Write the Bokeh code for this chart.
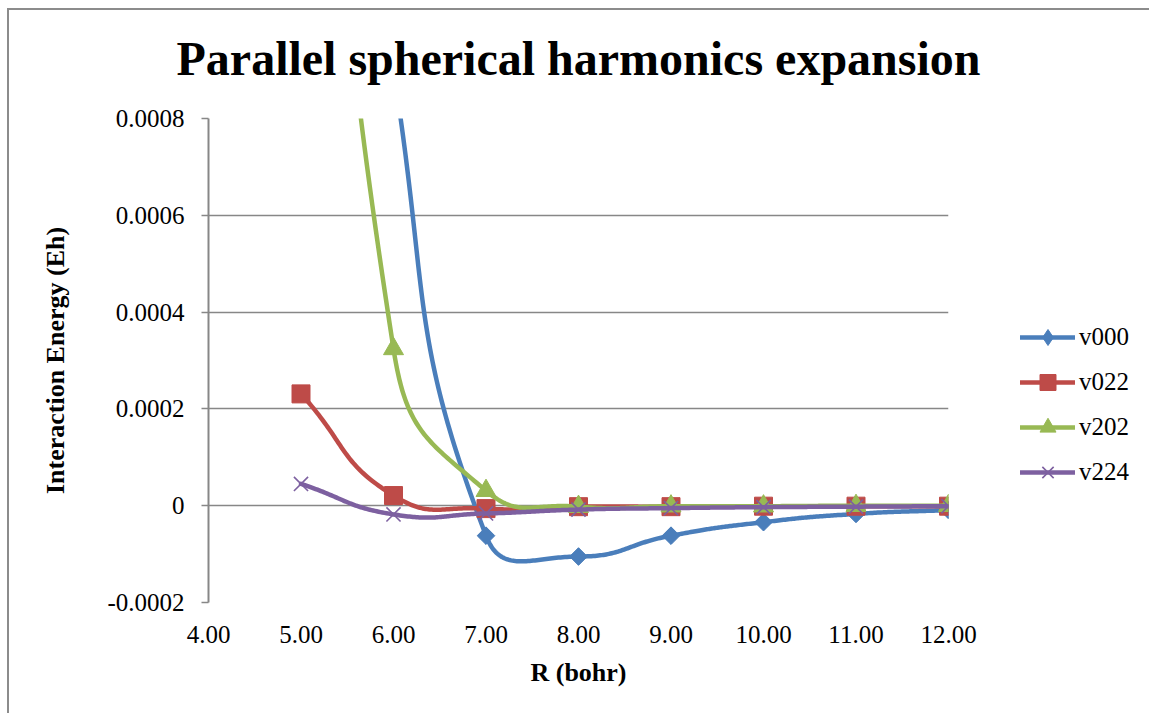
import numpy as np
from bokeh.plotting import figure
from bokeh.models import Range1d, FixedTicker, NumeralTickFormatter, Legend, LegendItem, Title
from bokeh.embed import file_html
from bokeh.resources import INLINE

# ---- data ----
R = [5.0, 6.0, 7.0, 8.0, 9.0, 10.0, 11.0, 12.0]
v000 = [0.0024, 0.0009, -0.000062, -0.000105, -0.000062, -0.000034, -0.000017, -0.000009]
v022 = [0.000231, 0.000021, -0.000006, -0.000002, -0.000002, -0.000001, -0.000001, -0.000001]
v202 = [0.0025, 0.000324, 0.000031, -0.000002, -0.000001, -0.000001, 0.0, 0.0]
v224 = [0.000045, -0.000018, -0.000016, -0.000008, -0.000005, -0.000003, -0.000002, -0.000001]
series_names = ["v000", "v022", "v202", "v224"]
x_ticks = [4, 5, 6, 7, 8, 9, 10, 11, 12]
y_ticks = [-0.0002, 0.0, 0.0002, 0.0004, 0.0006, 0.0008]

title_text = "Parallel spherical harmonics expansion"
x_label = "R (bohr)"
y_label = "Interaction Energy (Eh)"

# ---- layout / style ----
FW, FH = 740, 484
X0, X1 = 4.0, 12.0
Y0, Y1 = -0.0002, 0.0008
SERIF = "Liberation Serif"
GRID = "#878787"
colors = ["#4A7EBB", "#BE4B48", "#98B954", "#7D60A0"]


def smooth(xs, ys, sx, sy, n=60, tension=0.5):
    """Excel-like smoothed line: cubic Bezier segments with control points
    scaled by neighbouring segment lengths (computed in screen space)."""
    P = np.column_stack([np.asarray(xs) * sx, np.asarray(ys) * sy])
    N = len(P)
    t = np.linspace(0, 1, n)[:, None]
    out = []
    for i in range(N - 1):
        p0 = P[max(i - 1, 0)]
        p1 = P[i]
        p2 = P[i + 1]
        p3 = P[min(i + 2, N - 1)]
        d01 = np.hypot(*(p1 - p0))
        d12 = np.hypot(*(p2 - p1))
        d23 = np.hypot(*(p3 - p2))
        f1 = tension * d12 / (d01 + d12) if (d01 + d12) > 0 else 0
        f2 = tension * d12 / (d12 + d23) if (d12 + d23) > 0 else 0
        c1 = p1 + (p2 - p0) * f1
        c2 = p2 - (p3 - p1) * f2
        B = ((1 - t) ** 3) * p1 + 3 * ((1 - t) ** 2) * t * c1 + 3 * (1 - t) * t ** 2 * c2 + t ** 3 * p2
        out.append(B if i == 0 else B[1:])
    B = np.vstack(out)
    return B[:, 0] / sx, B[:, 1] / sy


p = figure(frame_width=FW, frame_height=FH,
           x_range=Range1d(X0, X1), y_range=Range1d(Y0, Y1),
           output_backend="svg", toolbar_location=None,
           min_border_left=199, min_border_right=200,
           min_border_top=108, min_border_bottom=111)
p.styles = {"margin-left": "7px", "margin-top": "8px",
            "border-left": "2px solid #8c8c8c", "border-top": "2px solid #8c8c8c"}
p.outline_line_color = None
p.background_fill_color = "white"
p.border_fill_color = "white"

p.title.text = title_text
p.title.align = "center"
p.title.offset = 5
p.title.text_font = SERIF
p.title.text_font_style = "bold"
p.title.text_font_size = "48px"
p.title.text_color = "black"

# spacer between the title and the plot area
spacer = Title(text=" ", text_font_size="24px", standoff=0)
p.add_layout(spacer, "above")

# grid
p.xgrid.visible = False
p.ygrid.grid_line_color = GRID
p.ygrid.grid_line_width = 1.5

# y axis
ya = p.yaxis[0]
ya.ticker = FixedTicker(ticks=y_ticks)
ya.formatter = NumeralTickFormatter(format="0.[0000]")
ya.axis_line_color = GRID
ya.axis_line_width = 2
ya.major_tick_line_color = GRID
ya.major_tick_line_width = 1.5
ya.major_tick_out = 7
ya.major_tick_in = 0
ya.minor_tick_line_color = None
ya.major_label_text_font = SERIF
ya.major_label_text_font_size = "25px"
ya.major_label_text_color = "black"
ya.major_label_standoff = 17
ya.axis_label = y_label
ya.axis_label_text_font = SERIF
ya.axis_label_text_font_style = "bold"
ya.axis_label_text_font_size = "26px"
ya.axis_label_text_color = "black"
ya.axis_label_standoff = 34

# x axis
xa = p.xaxis[0]
xa.ticker = FixedTicker(ticks=x_ticks)
xa.formatter = NumeralTickFormatter(format="0.00")
xa.axis_line_color = None
xa.major_tick_line_color = None
xa.major_tick_out = 0
xa.major_tick_in = 0
xa.minor_tick_line_color = None
xa.major_label_text_font = SERIF
xa.major_label_text_font_size = "25px"
xa.major_label_text_color = "black"
xa.major_label_standoff = 23
xa.axis_label = x_label
xa.axis_label_text_font = SERIF
xa.axis_label_text_font_style = "bold"
xa.axis_label_text_font_size = "26px"
xa.axis_label_text_color = "black"
xa.axis_label_standoff = 12

sx = FW / (X1 - X0)
sy = FH / (Y1 - Y0)

all_series = [v000, v022, v202, v224]

items = []
for k, (name, ys, col) in enumerate(zip(series_names, all_series, colors)):
    lx, ly = smooth(R, ys, sx, sy)
    lr = p.line(lx, ly, line_color=col, line_width=4.5, line_cap="round", line_join="round")
    if k == 0:
        # diamond used for the legend swatch, covered by the rotated squares on the plot
        mr = p.scatter(R, ys, marker="diamond", size=16, fill_color=col, line_color=col)
        p.scatter(R, ys, marker="square", size=12.5, angle=np.pi / 4, fill_color=col, line_color=col)
    elif k == 1:
        mr = p.scatter(R, ys, marker="square", size=18, fill_color=col, line_color=col)
    elif k == 2:
        mr = p.scatter(R, ys, marker="triangle", size=20, fill_color=col, line_color=col)
    else:
        mr = p.scatter(R, ys, marker="x", size=20, line_color=col, line_width=1.6)
    items.append(LegendItem(label=name, renderers=[lr, mr]))

legend = Legend(items=items, location=(72, 110))
legend.glyph_width = 55
legend.glyph_height = 40
legend.label_height = 40
legend.spacing = 5
legend.padding = 0
legend.margin = 0
legend.label_standoff = 4
legend.label_text_font = SERIF
legend.label_text_font_size = "25px"
legend.label_text_color = "black"
legend.border_line_color = None
legend.background_fill_alpha = 0
p.add_layout(legend, "right")

open("out.html", "w").write(file_html(p, INLINE))
